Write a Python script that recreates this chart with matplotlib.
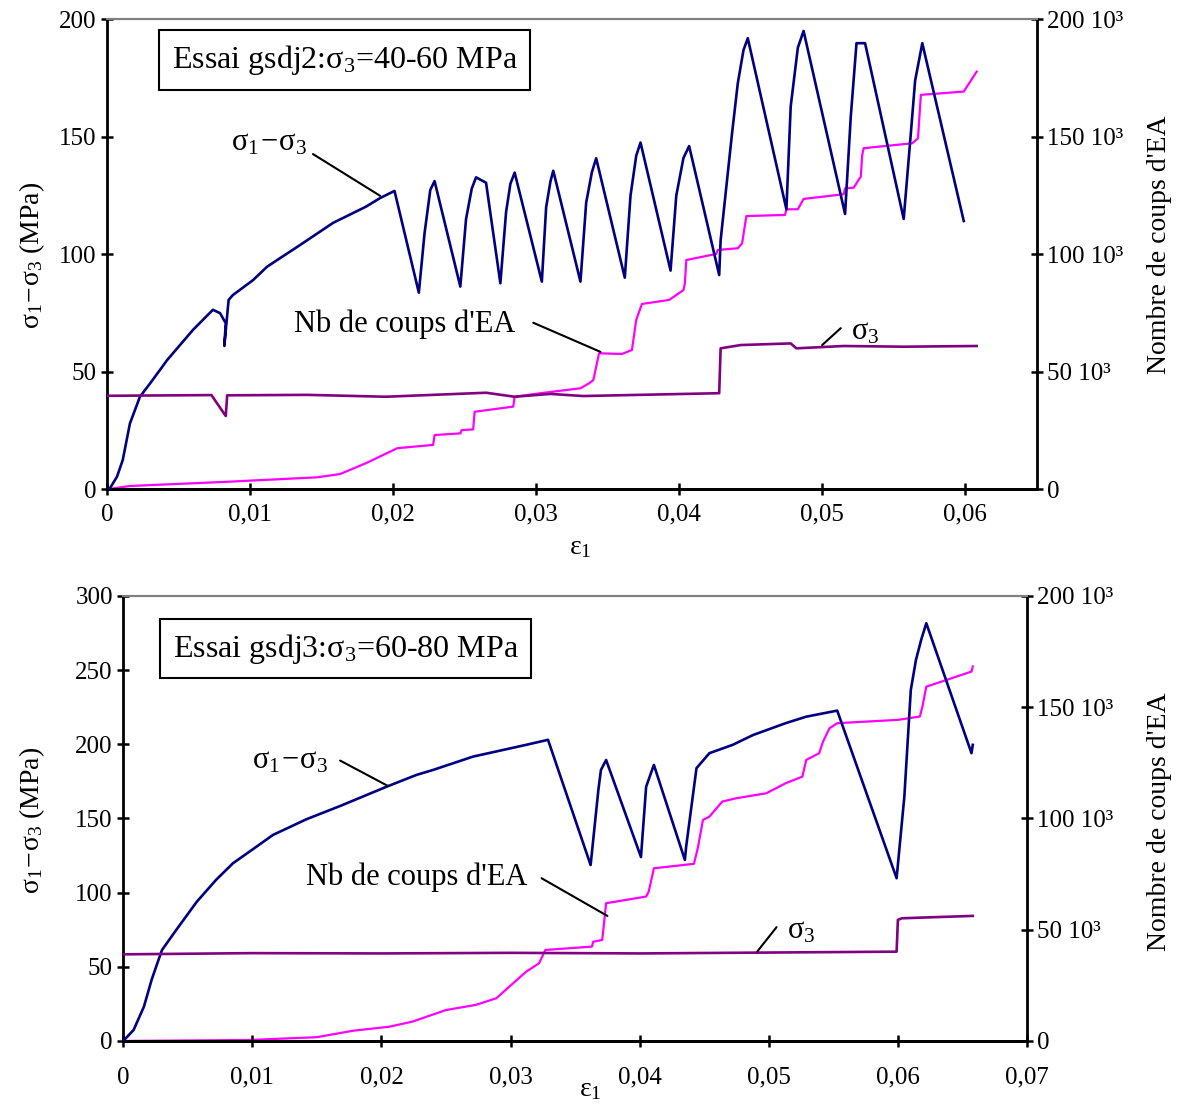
import matplotlib
matplotlib.use('Agg')
import matplotlib.pyplot as plt

plt.rcParams['font.family'] = ['Liberation Serif', 'DejaVu Serif']
plt.rcParams['mathtext.default'] = 'regular'

NAVY = '#000080'
PURPLE = '#800080'
MAGENTA = '#FF00FF'

# ---- essai gsdj2 (top) ----
top_dev_eps = [0, 0.0002, 0.0007, 0.0011, 0.0016, 0.0023, 0.0030, 0.0037, 0.0042, 0.0051,
               0.0060, 0.0074, 0.0079, 0.0083, 0.0082, 0.0085, 0.0088, 0.0102, 0.0112, 0.0135,
               0.0158, 0.0181, 0.0191, 0.0201,
               0.0218, 0.0222, 0.0226, 0.0229, 0.0247, 0.0251, 0.0255, 0.0258, 0.0265, 0.0275,
               0.0279, 0.0282, 0.0285, 0.0304, 0.0307, 0.0310, 0.0312, 0.0331, 0.0335, 0.0339,
               0.0342, 0.0362, 0.0366, 0.0370, 0.0373, 0.0394, 0.0398, 0.0403, 0.0407, 0.0428,
               0.0429, 0.0437, 0.0441, 0.0445, 0.0448, 0.0475, 0.0478, 0.0483, 0.0487, 0.0516,
               0.0520, 0.0524, 0.0530, 0.0557, 0.0562, 0.0565, 0.0570, 0.0599]
top_dev = [0, 0.4, 5.4, 12.5, 28, 39.4, 45, 50.8, 55, 61.4,
           67.8, 76.4, 75, 70.7, 61, 80.6, 82.7, 89, 94.8, 104,
           113.4, 120.3, 124, 127,
           83.7, 109, 127.4, 131.2, 86.3, 115, 128, 132.8, 130.5, 87.7,
           118, 130, 134.8, 88.4, 120, 131, 135.6, 88.4, 122, 135,
           140.9, 90.1, 125, 142, 147.6, 93.1, 125, 141, 146.1, 91.2,
           106, 151.6, 172.8, 187, 192, 119.2, 163, 188, 195.1, 117.2,
           158.6, 189.9, 189.9, 115.1, 151.6, 174, 189.9, 114.2]

top_s3_eps = [0, 0.0073, 0.0083, 0.0084, 0.0140, 0.0195, 0.0265, 0.0285, 0.0310, 0.0333,
              0.0380, 0.0428, 0.0429, 0.0443, 0.0478, 0.0482, 0.0515, 0.0557, 0.0608]
top_s3 = [39.8, 40.1, 31.2, 40.0, 40.2, 39.4, 41.1, 39.4, 40.6, 39.7,
          40.3, 40.9, 60.0, 61.4, 62.1, 60.0, 61.0, 60.7, 61.0]

top_ae_eps = [0, 0.0016, 0.0084, 0.0147, 0.0163, 0.0181, 0.0203, 0.0228, 0.0229, 0.0247,
              0.0248, 0.0256, 0.0257, 0.0284, 0.0285, 0.0303, 0.0331, 0.0337, 0.0340, 0.0344,
              0.0360, 0.0367, 0.0370, 0.0374, 0.0393, 0.0403, 0.0404, 0.0405, 0.0426, 0.0427,
              0.0441, 0.0444, 0.0447, 0.0474, 0.0475, 0.0483, 0.0487, 0.0515, 0.0516, 0.0522,
              0.0527, 0.0528, 0.0529, 0.0563, 0.0567, 0.0569, 0.0599, 0.0608]
top_ae_k = [0, 1.4, 3.2, 5.1, 6.5, 11.1, 17.5, 18.9, 23.1, 23.8,
            25.2, 25.5, 33, 35.2, 39.4, 40.9, 43, 45.1, 46.5, 57.9,
            57.6, 59.3, 72.1, 78.9, 80.6, 84.8, 87.7, 97.6, 100.2, 101.9,
            102.6, 104.7, 116.3, 116.8, 119.2, 119.2, 123.6, 125.6, 128.1, 128.4,
            133.1, 142.3, 145.2, 147.3, 149.4, 167.9, 169.3, 177.8]

# ---- essai gsdj3 (bottom) ----
bot_dev_eps = [0, 0.0008, 0.0016, 0.0022, 0.0026, 0.0030, 0.0041, 0.0057, 0.0072, 0.0085,
               0.0100, 0.0116, 0.0142, 0.0168, 0.0204, 0.0227, 0.0240, 0.0271, 0.0312, 0.0329,
               0.0362, 0.0368, 0.0370, 0.0374, 0.0401, 0.0405, 0.0411, 0.0435, 0.0436, 0.0444,
               0.0454, 0.0472, 0.0488, 0.0513, 0.0529, 0.0549, 0.0553, 0.0599, 0.0605, 0.0610,
               0.0614, 0.0618, 0.0622, 0.0657, 0.0658]
bot_dev = [0, 7.4, 23.1, 41.3, 51.4, 61.3, 74.8, 93.9, 108.7, 119.8,
           129, 138.9, 149.5, 158.4, 171.4, 179.3, 182.7, 191.7, 199.6, 203,
           118.6, 169.2, 182.7, 189.4, 124, 171.4, 186.1, 122, 131, 183.9,
           194, 199.6, 206.3, 214.2, 218.6, 222, 222.7, 109.7, 164.7, 236.6,
           256.9, 270.3, 281.6, 194, 199.6]

bot_s3_eps = [0, 0.0100, 0.0200, 0.0300, 0.0400, 0.0500, 0.0599, 0.0600, 0.0603, 0.0630, 0.0658]
bot_s3 = [58.4, 59.2, 59.0, 59.4, 59.0, 59.6, 60.2, 81.6, 82.7, 83.5, 84.3]

bot_ae_eps = [0, 0.0098, 0.0150, 0.0178, 0.0206, 0.0224, 0.0250, 0.0273, 0.0289, 0.0299,
              0.0312, 0.0322, 0.0327, 0.0363, 0.0364, 0.0371, 0.0374, 0.0405, 0.0407, 0.0411,
              0.0442, 0.0445, 0.0449, 0.0454, 0.0464, 0.0475, 0.0498, 0.0513, 0.0526, 0.0529,
              0.0539, 0.0542, 0.0547, 0.0553, 0.0600, 0.0617, 0.0619, 0.0622, 0.0657, 0.0658]
bot_ae_k = [0, 0.45, 1.7, 4.6, 6.4, 8.7, 13.9, 16.2, 19.2, 24.4,
            31.1, 34.9, 40.9, 42.4, 44.6, 45.4, 61.9, 64.9, 67.1, 77.6,
            79.6, 86.6, 99.3, 100.8, 107.6, 109.1, 111.3, 115.8, 118.8, 126.3,
            129.3, 134.5, 140.5, 142.8, 144.3, 145.8, 150.2, 159.2, 166, 168.3]

ae_ticks = [0, 50000, 100000, 150000, 200000]
ae_labels = ['0', '50 10³', '100 10³', '150 10³', '200 10³']


def style_axes(ax, ax2, xpad):
    for a in (ax, ax2):
        a.spines['top'].set_color('#808080')
        a.spines['top'].set_linewidth(1.5)
        for s in ('left', 'right', 'bottom'):
            a.spines[s].set_linewidth(2)
            a.spines[s].set_color('black')
        a.tick_params(direction='inout', length=9, width=1.8, labelsize=18, pad=3)
    ax.tick_params(axis='x', pad=xpad)
    ax.spines['right'].set_visible(False)
    ax2.spines['left'].set_visible(False)


def draw_panel(ax, dev_eps, dev, s3_eps, s3, ae_eps, ae_k, xmax, ymax, xticks, yticks, title, xpad):
    ax2 = ax.twinx()
    ax.plot(dev_eps, dev, color=NAVY, lw=1.9, zorder=3)
    ax.plot(s3_eps, s3, color=PURPLE, lw=1.9, zorder=3)
    ax2.plot(ae_eps, [v * 1000 for v in ae_k], color=MAGENTA, lw=1.6)
    ax.set_zorder(ax2.get_zorder() + 1)
    ax.patch.set_visible(False)

    ax.set_xlim(0, xmax)
    ax.set_ylim(0, ymax)
    ax2.set_ylim(0, 200000)
    ax.set_xticks(xticks)
    ax.set_xticklabels(['0'] + [f'{t:.2f}'.replace('.', ',') for t in xticks[1:]])
    ax.set_yticks(yticks)
    ax2.set_yticks(ae_ticks)
    ax2.set_yticklabels(ae_labels)
    style_axes(ax, ax2, xpad)

    ax.text(title[0], title[1], title[2], transform=ax.transAxes, ha='center', va='center',
            fontsize=23,
            bbox=dict(boxstyle='square,pad=0.4', fc='white', ec='black', lw=1.5))
    return ax2


def label(ax, txt, text_xy, start, end):
    ax.text(text_xy[0], text_xy[1], txt, ha='center', va='center', fontsize=22)
    ax.annotate('', xy=end, xytext=start,
                arrowprops=dict(arrowstyle='-', lw=1.5, color='black', shrinkA=0, shrinkB=0))


fig = plt.figure(figsize=(11.84, 11.06), dpi=100)
ax_top = fig.add_axes([0.0904, 0.5576, 0.7852, 0.4248])
ax_bot = fig.add_axes([0.1041, 0.0588, 0.7633, 0.4024])

dev_lbl = r'$\sigma_1\!-\!\sigma_3$'

draw_panel(ax_top, top_dev_eps, top_dev, top_s3_eps, top_s3, top_ae_eps, top_ae_k,
           0.065, 200, [0, 0.01, 0.02, 0.03, 0.04, 0.05, 0.06], [0, 50, 100, 150, 200],
           (0.2555, 0.9138, r'Essai gsdj2:$\sigma_3$=40-60 MPa'), 6)
label(ax_top, dev_lbl, (0.0113, 147.4), (0.0144, 142.7), (0.0191, 124.9))
label(ax_top, "Nb de coups d'EA", (0.0208, 70.4), (0.0298, 70.9), (0.0345, 58.5))
label(ax_top, r'$\sigma_3$', (0.0530, 67.0), (0.0500, 61.4), (0.0513, 68.6))

draw_panel(ax_bot, bot_dev_eps, bot_dev, bot_s3_eps, bot_s3, bot_ae_eps, bot_ae_k,
           0.07, 300, [0, 0.01, 0.02, 0.03, 0.04, 0.05, 0.06, 0.07], [0, 50, 100, 150, 200, 250, 300],
           (0.2461, 0.8816, r'Essai gsdj3:$\sigma_3$=60-80 MPa'), 14)
label(ax_bot, dev_lbl, (0.0129, 188.8), (0.0168, 189.0), (0.0205, 171.9))
label(ax_bot, "Nb de coups d'EA", (0.0227, 110.6), (0.0324, 109.7), (0.0375, 84.3))
label(ax_bot, r'$\sigma_3$', (0.0525, 74.2), (0.0491, 60.2), (0.0506, 76.7))

# axis titles
for yc in (0.7694, 0.2586):
    fig.text(0.027, yc, r'$\sigma_1\!-\!\sigma_3$ (MPa)', rotation=90, ha='center', va='center', fontsize=20)
for yc in (0.7785, 0.2568):
    fig.text(0.9797, yc, "Nombre de coups d'EA", rotation=90, ha='center', va='center', fontsize=20)
fig.text(0.4899, 0.5045, r'$\varepsilon_1$', ha='center', va='center', fontsize=20)
fig.text(0.4983, 0.0145, r'$\varepsilon_1$', ha='center', va='center', fontsize=20)

fig.savefig('out.png', dpi=100)
